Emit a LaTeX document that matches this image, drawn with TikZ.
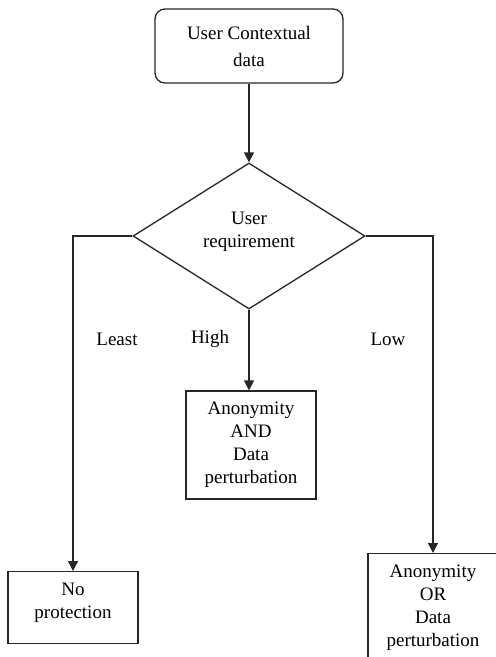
\documentclass[tikz,border=0pt]{standalone}
\usepackage{fontspec}
\setmainfont{Liberation Serif}
\usetikzlibrary{arrows.meta,shapes.geometric}
\begin{document}
\begin{tikzpicture}[x=1pt,y=-1pt,
  every node/.style={font=\fontsize{19}{23}\selectfont, align=center},
  line/.style={line width=1.3pt, draw=black!85},
  arr/.style={line, -{Triangle[width=10pt,length=10pt]}},
  box/.style={line, draw, rectangle, inner sep=0pt},
  lbl/.style={inner sep=0pt}
]
\useasboundingbox (0,0) rectangle (496,657);

% start node
\node[box, rounded corners=10pt, minimum width=188pt, minimum height=74pt,
      font=\fontsize{19}{27}\selectfont] (ctx) at (249,46) {User Contextual\\data};

% decision (outline, then its text set a little above centre)
\node[line, draw, diamond, aspect=1.59, minimum width=232pt, minimum height=146pt,
      inner sep=0pt] (req) at (249,236) {};
\node[lbl] (reqtext) at ([yshift=4pt]req.center) {User\\requirement};

% outcomes
\node[box, minimum width=130pt, minimum height=108pt] (both) at (251,445)
  {Anonymity\\AND\\Data\\perturbation};
\node[box, minimum width=130pt, minimum height=72pt, anchor=north] (none) at (73,571) {};
\node[lbl] (nonetext) at ([yshift=5pt]none.center) {No\\protection};
\node[box, minimum width=130pt, minimum height=108pt, anchor=north] (either) at (433,553)
  {Anonymity\\OR\\Data\\perturbation};

% connectors
\draw[arr] (ctx) -- (req);
\draw[arr] (req.south) -- (req.south |- both.north);
\draw[arr] (req.west) -| (none.north);
\draw[arr] (req.east) -| (either.north);

% branch labels
\node[lbl] (least) at (117,339) {Least};
\node[lbl] (high) at (210,339) {High};
\node[lbl] (low) at (388,339) {Low};
\end{tikzpicture}
\end{document}
